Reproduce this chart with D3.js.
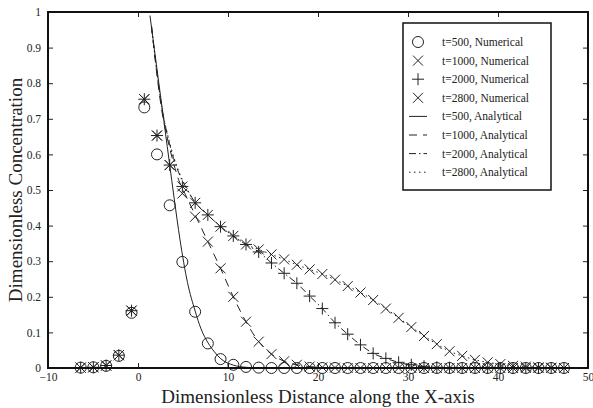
<!DOCTYPE html>
<html>
<head>
<meta charset="utf-8">
<script src="https://cdn.jsdelivr.net/npm/d3@7"></script>
<style>
	body { margin: 0; background: #fff; }
	text { font-family: "Liberation Serif", "Times New Roman", serif; fill: #222; }
</style>
</head>
<body>
<div id="chart"></div>
<script>

// --------------------------------------------------------
// Data

// grid positions of the numerical points
var x_points = [
	-6.37, -4.96, -3.54, -2.13, -0.72, 0.70, 2.11, 3.52, 4.93, 6.35,
	7.76, 9.17, 10.59, 12.00, 13.41, 14.83, 16.24, 17.65, 19.07, 20.48,
	21.89, 23.30, 24.72, 26.13, 27.54, 28.96, 30.37, 31.78, 33.20, 34.61,
	36.02, 37.44, 38.85, 40.26, 41.67, 43.09, 44.50, 45.91, 47.33
];

var t500_num = [
	0.001, 0.002, 0.006, 0.034, 0.155, 0.732, 0.600, 0.457, 0.298, 0.158,
	0.069, 0.025, 0.009, 0.003, 0.001, 0, 0, 0, 0, 0,
	0, 0, 0, 0, 0, 0, 0, 0, 0, 0,
	0, 0, 0, 0, 0, 0, 0, 0, 0
];

var t1000_num = [
	0.001, 0.002, 0.007, 0.036, 0.161, 0.755, 0.653, 0.570, 0.490, 0.425,
	0.355, 0.280, 0.200, 0.130, 0.074, 0.039, 0.019, 0.009, 0.004, 0.002,
	0.001, 0, 0, 0, 0, 0, 0, 0, 0, 0,
	0, 0, 0, 0, 0, 0, 0, 0, 0
];

var t2000_num = [
	0.001, 0.002, 0.007, 0.036, 0.161, 0.755, 0.653, 0.570, 0.510, 0.464,
	0.430, 0.397, 0.371, 0.347, 0.326, 0.295, 0.266, 0.238, 0.202, 0.167,
	0.127, 0.095, 0.065, 0.041, 0.027, 0.016, 0.009, 0.005, 0.002, 0.001,
	0, 0, 0, 0, 0, 0, 0, 0, 0
];

var t2800_num = [
	0.001, 0.002, 0.007, 0.036, 0.161, 0.755, 0.653, 0.570, 0.510, 0.464,
	0.430, 0.397, 0.371, 0.347, 0.333, 0.319, 0.305, 0.290, 0.277, 0.264,
	0.248, 0.230, 0.212, 0.191, 0.167, 0.141, 0.115, 0.090, 0.067, 0.047,
	0.034, 0.023, 0.016, 0.011, 0.006, 0.004, 0.002, 0.001, 0
];

// analytical curves
var t500_ana_x = [1.33, 2, 3, 4, 4.67, 5.5, 6.35, 7, 7.8, 8.5, 9.2, 10.6, 12, 14, 47.33];
var t500_ana_y = [0.99, 0.86, 0.67, 0.48, 0.36, 0.24, 0.16, 0.11, 0.07, 0.045, 0.026, 0.008, 0.002, 0, 0];

var t1000_ana_x = [1.5, 2.6, 3.5, 4.5, 5.4, 6.35, 7.76, 9.17, 10.59, 12.0, 13.41, 14.83, 16.24, 17.65, 19.07, 21, 47.33];
var t1000_ana_y = [0.96, 0.73, 0.62, 0.53, 0.48, 0.43, 0.355, 0.28, 0.2, 0.13, 0.074, 0.039, 0.019, 0.009, 0.004, 0.001, 0];

var t2000_ana_x = [1.5, 2.6, 3.5, 4.5, 5.5, 6.35, 7.76, 9.17, 10.59, 12.0, 13.41, 14.83, 16.24, 17.65, 19.07, 20.48,
	21.89, 23.30, 24.72, 26.13, 27.54, 28.96, 30.37, 31.78, 33.2, 47.33];
var t2000_ana_y = [0.96, 0.74, 0.63, 0.55, 0.5, 0.465, 0.43, 0.397, 0.371, 0.347, 0.326, 0.295, 0.266, 0.238, 0.202, 0.167,
	0.127, 0.095, 0.065, 0.041, 0.027, 0.016, 0.008, 0.004, 0.001, 0];

var t2800_ana_x = [1.5, 2.6, 3.5, 4.5, 5.5, 6.35, 7.76, 9.17, 10.59, 12.0, 13.41, 14.83, 16.24, 17.65, 19.07, 20.48,
	21.89, 23.30, 24.72, 26.13, 27.54, 28.96, 30.37, 31.78, 33.20, 34.61, 36.02, 37.44, 38.85, 40.26, 41.67, 43.09, 44.50, 47.33];
var t2800_ana_y = [0.96, 0.74, 0.635, 0.555, 0.5, 0.465, 0.43, 0.397, 0.371, 0.347, 0.333, 0.319, 0.305, 0.29, 0.277, 0.264,
	0.248, 0.23, 0.212, 0.191, 0.167, 0.141, 0.115, 0.09, 0.067, 0.047, 0.034, 0.023, 0.016, 0.011, 0.006, 0.004, 0.002, 0];

var x_ticks = [-10, 0, 10, 20, 30, 40, 50];
var y_ticks = [0, 0.1, 0.2, 0.3, 0.4, 0.5, 0.6, 0.7, 0.8, 0.9, 1];

var legend_labels = [
	't=500, Numerical', 't=1000, Numerical', 't=2000, Numerical', 't=2800, Numerical',
	't=500, Analytical', 't=1000, Analytical', 't=2000, Analytical', 't=2800, Analytical'
];

// --------------------------------------------------------

// Chart size parameters
var chart_width     =   593;
var chart_height    =   408;
var margin          =   { top: 12, right: 5, bottom: 40, left: 48 };
var ink             =   '#222';
var serif           =   '"Liberation Serif", "Times New Roman", serif';

// --------------------------------------------------------

var svg = d3.select( '#chart' )
	.append( 'svg' )
	.attr( 'width', chart_width )
	.attr( 'height', chart_height );

const x_scale = d3.scaleLinear()
	.domain( [-10, 50] )
	.range( [margin.left, chart_width - margin.right] );

const y_scale = d3.scaleLinear()
	.domain( [0, 1] )
	.range( [chart_height - margin.bottom, margin.top] );

// --------------------------------------------------------
// Axes (ticks pointing inward, on all four sides)

svg.append( 'g' )
	.attr( 'class', 'x-axis' )
	.attr( 'transform', 'translate(0,' + (chart_height - margin.bottom) + ')' )
	.call( d3.axisBottom( x_scale ).tickValues( x_ticks ).tickSize( -5 ).tickPadding( 5 ) )
	.call( g => g.select( '.domain' ).remove() );

svg.append( 'g' )
	.attr( 'transform', 'translate(0,' + margin.top + ')' )
	.call( d3.axisTop( x_scale ).tickValues( x_ticks ).tickSize( -5 ).tickFormat( '' ) )
	.call( g => g.select( '.domain' ).remove() );

svg.append( 'g' )
	.attr( 'class', 'y-axis' )
	.attr( 'transform', 'translate(' + margin.left + ',0)' )
	.call( d3.axisLeft( y_scale ).tickValues( y_ticks ).tickSize( -5 ).tickPadding( 7 ).tickFormat( d3.format( '~g' ) ) )
	.call( g => g.select( '.domain' ).remove() );

svg.append( 'g' )
	.attr( 'transform', 'translate(' + (chart_width - margin.right) + ',0)' )
	.call( d3.axisRight( y_scale ).tickValues( y_ticks ).tickSize( -5 ).tickFormat( '' ) )
	.call( g => g.select( '.domain' ).remove() );

svg.selectAll( '.tick line' ).attr( 'stroke', ink );
svg.selectAll( '.x-axis, .y-axis' ).attr( 'font-family', serif ).attr( 'font-size', 11.5 );
svg.selectAll( '.tick text' )
	.style( 'font-family', serif )
	.attr( 'fill', '#333' );

// --------------------------------------------------------
// Analytical curves

var line = d3.line()
	.x( d => x_scale( d[0] ) )
	.y( d => y_scale( d[1] ) )
	.curve( d3.curveMonotoneX );

var curves = [
	{ x: t500_ana_x,  y: t500_ana_y,  dash: null },
	{ x: t1000_ana_x, y: t1000_ana_y, dash: '8,6' },
	{ x: t2000_ana_x, y: t2000_ana_y, dash: '7,3,1.5,3' },
	{ x: t2800_ana_x, y: t2800_ana_y, dash: '1.5,3.5' }
];

svg.append( 'g' )
	.selectAll( 'path' )
	.data( curves )
	.enter()
	.append( 'path' )
	.attr( 'd', c => line( c.x.map( (v, i) => [v, c.y[i]] ) ) )
	.attr( 'fill', 'none' )
	.attr( 'stroke', ink )
	.attr( 'stroke-width', 1 )
	.attr( 'stroke-dasharray', c => c.dash );

// --------------------------------------------------------
// Numerical markers

function draw_marker( g, type, cx, cy ) {
	var s = 5;
	if ( type === 'circle' ) {
		g.append( 'circle' ).attr( 'cx', cx ).attr( 'cy', cy ).attr( 'r', 5.5 )
			.attr( 'fill', 'none' ).attr( 'stroke', ink ).attr( 'stroke-width', 1 );
	} else if ( type === 'x' ) {
		g.append( 'path' )
			.attr( 'd', 'M' + (cx - s) + ',' + (cy - s) + 'L' + (cx + s) + ',' + (cy + s) +
				'M' + (cx - s) + ',' + (cy + s) + 'L' + (cx + s) + ',' + (cy - s) )
			.attr( 'stroke', ink ).attr( 'stroke-width', 1 );
	} else {
		s = 6;
		g.append( 'path' )
			.attr( 'd', 'M' + (cx - s) + ',' + cy + 'L' + (cx + s) + ',' + cy +
				'M' + cx + ',' + (cy - s) + 'L' + cx + ',' + (cy + s) )
			.attr( 'stroke', ink ).attr( 'stroke-width', 1 );
	}
}

var numerical = [
	{ values: t500_num,  marker: 'circle' },
	{ values: t1000_num, marker: 'x' },
	{ values: t2000_num, marker: 'plus' },
	{ values: t2800_num, marker: 'x' }
];

var marks = svg.append( 'g' ).attr( 'id', 'plot-area' );
numerical.forEach( s => {
	s.values.forEach( (v, i) => {
		draw_marker( marks, s.marker, x_scale( x_points[i] ), y_scale( v ) );
	});
});

// --------------------------------------------------------
// Frame

svg.append( 'rect' )
	.attr( 'x', margin.left )
	.attr( 'y', margin.top )
	.attr( 'width', chart_width - margin.left - margin.right )
	.attr( 'height', chart_height - margin.top - margin.bottom )
	.attr( 'fill', 'none' )
	.attr( 'stroke', '#111' )
	.attr( 'stroke-width', 2 );

// --------------------------------------------------------
// Axis titles

svg.append( 'text' )
	.attr( 'x', (margin.left + chart_width - margin.right) / 2 )
	.attr( 'y', 403 )
	.attr( 'text-anchor', 'middle' )
	.attr( 'font-size', 19 )
	.text( 'Dimensionless Distance along the X-axis' );

svg.append( 'text' )
	.attr( 'transform', 'translate(22,' + ((margin.top + chart_height - margin.bottom) / 2) + ') rotate(-90)' )
	.attr( 'text-anchor', 'middle' )
	.attr( 'font-size', 19 )
	.text( 'Dimensionless Concentration' );

// --------------------------------------------------------
// Legend

var legend = svg.append( 'g' ).attr( 'transform', 'translate(403,23)' );

legend.append( 'rect' )
	.attr( 'width', 148 )
	.attr( 'height', 167 )
	.attr( 'fill', '#fff' )
	.attr( 'stroke', '#111' )
	.attr( 'stroke-width', 1.5 );

var legend_markers = ['circle', 'x', 'plus', 'x'];
var legend_dashes  = [null, '8,6', '7,3,1.5,3', '1.5,3.5'];

legend_labels.forEach( (label, i) => {
	var yy = 19 + i * 18.6;
	if ( i < 4 ) {
		draw_marker( legend, legend_markers[i], 15, yy );
	} else {
		legend.append( 'line' )
			.attr( 'x1', 6 ).attr( 'x2', 24 )
			.attr( 'y1', yy ).attr( 'y2', yy )
			.attr( 'stroke', ink )
			.attr( 'stroke-width', 1 )
			.attr( 'stroke-dasharray', legend_dashes[i - 4] );
	}
	legend.append( 'text' )
		.attr( 'x', 39 )
		.attr( 'y', yy + 4 )
		.attr( 'font-size', 11.5 )
		.text( label );
});

</script>
</body>
</html>
